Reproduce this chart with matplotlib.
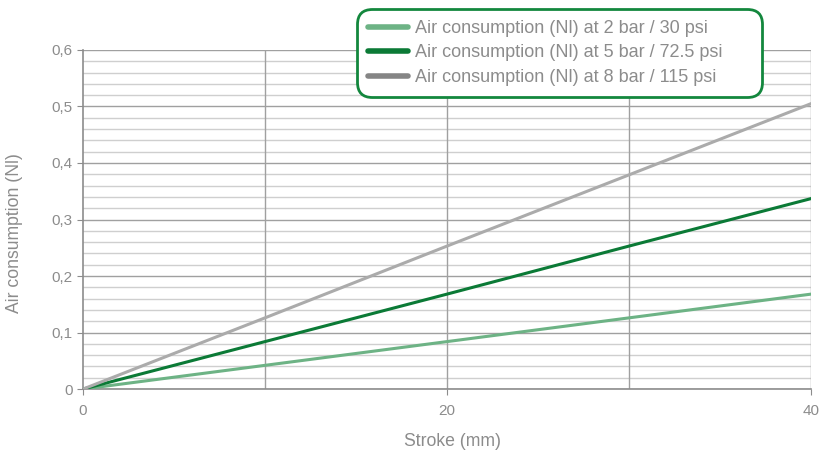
import numpy as np
import matplotlib.pyplot as plt
from matplotlib.lines import Line2D
from matplotlib.ticker import FuncFormatter, MultipleLocator

# Dati
stroke = [0, 10, 20, 30, 40]
air_2bar = [0, 0.042, 0.084, 0.126, 0.168]
air_5bar = [0, 0.084, 0.168, 0.253, 0.337]
air_8bar = [0, 0.126, 0.253, 0.379, 0.505]
grid_x = [10, 20, 30, 40]
labels = ['Air consumption (Nl) at 2 bar / 30 psi',
          'Air consumption (Nl) at 5 bar / 72.5 psi',
          'Air consumption (Nl) at 8 bar / 115 psi']

plt.rcParams['font.family'] = ['Liberation Sans', 'DejaVu Sans']
txt = '#8c8c8c'

fig = plt.figure(figsize=(8.19, 4.54), dpi=100)
ax = fig.add_axes([0.1013, 0.143, 0.889, 0.747])

ax.plot(stroke, air_2bar, color='#6db385', lw=2.2, zorder=3)
ax.plot(stroke, air_5bar, color='#0b7a36', lw=2.2, zorder=3)
ax.plot(stroke, air_8bar, color='#ababab', lw=2.2, zorder=3)

ax.set_xlim(0, 40)
ax.set_ylim(0, 0.6)
ax.xaxis.set_major_locator(MultipleLocator(20))
ax.yaxis.set_major_locator(MultipleLocator(0.1))
ax.yaxis.set_minor_locator(MultipleLocator(0.02))
ax.yaxis.set_major_formatter(FuncFormatter(lambda v, p: '0' if v == 0 else f'{v:.1f}'.replace('.', ',')))

# griglia: orizzontale sotto, verticale sopra
ax.grid(which='major', axis='y', color='#a0a0a0', lw=1)
ax.grid(which='minor', axis='y', color='#cfcfcf', lw=1)
ax.set_axisbelow(True)
for gx in grid_x:
    ax.axvline(gx, color='#a0a0a0', lw=1, zorder=1)

for s in ['top', 'right']:
    ax.spines[s].set_visible(False)
for s in ['left', 'bottom']:
    ax.spines[s].set_color('#8c8c8c')
    ax.spines[s].set_linewidth(1.2)

ax.tick_params(which='major', colors='#8c8c8c', labelcolor=txt, labelsize=11, length=4)
ax.tick_params(axis='x', pad=7)
ax.tick_params(which='minor', length=0)

ax.set_xlabel('Stroke (mm)', color=txt, fontsize=12.7, labelpad=12)
ax.xaxis.set_label_coords(0.508, -0.13)
ax.set_ylabel('Air consumption (Nl)', color=txt, fontsize=12.7, labelpad=10)
ax.yaxis.set_label_coords(-0.083, 0.46)

handles = [Line2D([], [], color='#6db385', lw=4, solid_capstyle='round'),
           Line2D([], [], color='#0b7a36', lw=4, solid_capstyle='round'),
           Line2D([], [], color='#858585', lw=4, solid_capstyle='round')]
leg = fig.legend(handles, labels, loc='upper left', mode='expand',
                 bbox_to_anchor=(0.436, 0.787, 0.494, 0.193),
                 frameon=True, fancybox=True,
                 handlelength=2.2, handletextpad=0.4, labelspacing=0.42,
                 borderpad=0.6, borderaxespad=0, framealpha=1,
                 prop={'family': ['Liberation Sans', 'DejaVu Sans'], 'size': 13})
leg.get_frame().set_edgecolor('#13873d')
leg.get_frame().set_linewidth(2)
leg.get_frame().set_boxstyle('round', pad=0, rounding_size=0.8)
for t in leg.get_texts():
    t.set_color(txt)

fig.savefig('out.png', dpi=100)
